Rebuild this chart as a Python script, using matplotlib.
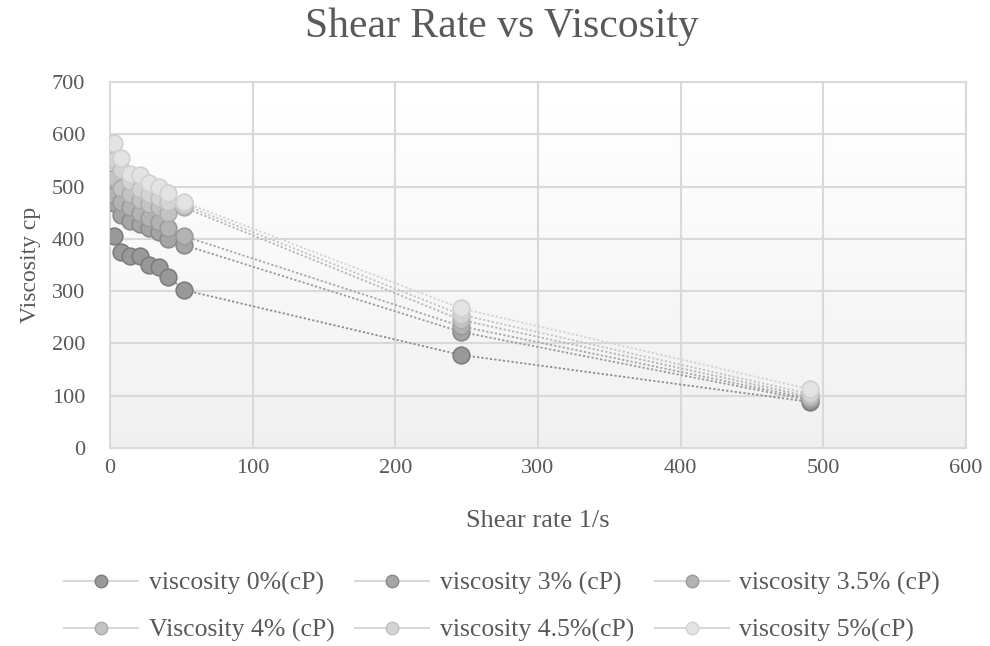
import matplotlib.pyplot as plt
import numpy as np

plt.rcParams['font.family'] = ['Liberation Serif', 'DejaVu Serif']

shear = [3, 8, 14, 21, 27, 34, 41, 52, 246, 491]
v0 = [405, 375, 367, 367, 350, 346, 327, 302, 178, 88]
v3 = [468, 445, 434, 428, 420, 413, 400, 388, 222, 91]
v35 = [484, 470, 460, 450, 440, 432, 420, 405, 233, 94]
v4 = [516, 497, 485, 475, 466, 460, 450, 460, 245, 98]
v45 = [551, 531, 510, 495, 485, 478, 470, 465, 255, 103]
v5 = [583, 554, 524, 522, 507, 499, 488, 470, 267, 112]

labels = ['viscosity 0%(cP)', 'viscosity 3% (cP)', 'viscosity 3.5% (cP)',
          'Viscosity 4% (cP)', 'viscosity 4.5%(cP)', 'viscosity 5%(cP)']
series = [v0, v3, v35, v4, v45, v5]
faces = ['#999999', '#a5a5a5', '#b3b3b3', '#c3c3c3', '#d4d4d4', '#e3e3e3']
edges = ['#7d7d7d', '#8a8a8a', '#9a9a9a', '#ababab', '#bfbfbf', '#d0d0d0']
trend = ['#8c8c8c', '#999999', '#a6a6a6', '#b5b5b5', '#c4c4c4', '#d2d2d2']

fig = plt.figure(figsize=(9.9, 6.46), dpi=100)
ax = fig.add_axes([110 / 990, 1 - 448 / 646, 856 / 990, 366 / 646])

# soft vertical gradient of the plot area
grad = np.linspace(0.94, 1.0, 100).reshape(-1, 1)
ax.imshow(grad, cmap='gray', vmin=0, vmax=1, aspect='auto',
          extent=[0, 1, 0, 1], transform=ax.transAxes, zorder=0, origin='lower')

handles = []
for y, lab, fc, ec, tc in zip(series, labels, faces, edges, trend):
    ax.plot(shear, y, linestyle=(0, (1.2, 1.2)), color=tc, lw=1.3, zorder=2)
    ax.plot(shear, y, linestyle='none', marker='o', ms=12, mfc=fc, mec=ec,
            mew=1.2, zorder=3)
    h, = ax.plot([], [], color='#d9d9d9', lw=1.5, marker='o', ms=9, mfc=fc,
                 mec=ec, mew=1.0, label=lab)
    handles.append(h)

ax.set_xlim(0, 600)
ax.set_ylim(0, 700)
ax.set_xticks(range(0, 601, 100))
ax.set_yticks(range(0, 701, 100))
ax.grid(True, color='#d9d9d9', lw=1.5)
ax.set_axisbelow(True)
for s in ax.spines.values():
    s.set_color('#d9d9d9')
    s.set_linewidth(1.5)
ax.tick_params(length=0, labelsize=16, colors='#595959')
ax.tick_params(axis='y', pad=18)
ax.tick_params(axis='x', pad=8)

fig.text(0.507, 0.958, 'Shear Rate vs Viscosity', fontsize=30, color='#595959',
         ha='center', va='center')
ax.set_xlabel('Shear rate 1/s', fontsize=19, color='#595959', labelpad=23)
ax.set_ylabel('Viscosity cp', fontsize=17, color='#595959', labelpad=8)

# matplotlib fills legend columns first, so reorder to read row by row
order = [0, 3, 1, 4, 2, 5]
fig.legend([handles[i] for i in order], [labels[i] for i in order],
           loc='center', ncol=3, bbox_to_anchor=(0.507, 1 - 607 / 646),
           frameon=False, fontsize=18.5, labelcolor='#595959',
           handlelength=2.9, columnspacing=0.8, handletextpad=0.4,
           labelspacing=0.9)

fig.savefig('out.png', dpi=100, facecolor='white')
